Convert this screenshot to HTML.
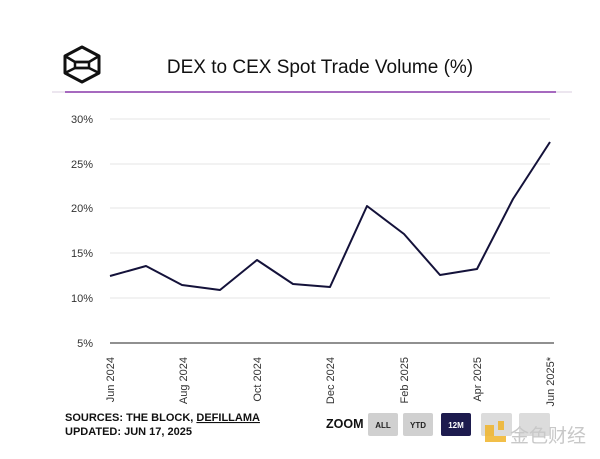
<!DOCTYPE html><html><head><style>body{margin:0;background:#fff;width:600px;height:454px;overflow:hidden}</style></head><body>
<svg width="600" height="454" xmlns="http://www.w3.org/2000/svg" font-family="Liberation Sans, sans-serif">
<g fill="none" stroke="#111" stroke-width="3" stroke-linejoin="round">
<polygon points="82,47 99,56 99,73 82,82 65,73 65,56"/>
<polyline points="65,56 75,62 89,62 99,56" stroke-width="2.5"/>
<polyline points="65,73 75,68 89,68 99,73" stroke-width="2.5"/>
<rect x="75" y="62" width="14" height="6" stroke-width="2.5"/>
</g>
<text x="320" y="73" font-size="19" text-anchor="middle" fill="#111">DEX to CEX Spot Trade Volume (%)</text>
<line x1="52" y1="92" x2="572" y2="92" stroke="#ece6ef" stroke-width="2"/>
<line x1="65" y1="92" x2="556" y2="92" stroke="#7b1fa2" stroke-width="1.2"/>
<g stroke="#e6e6e6" stroke-width="1">
<line x1="110" y1="119" x2="550" y2="119"/><line x1="110" y1="164" x2="550" y2="164"/><line x1="110" y1="208" x2="550" y2="208"/><line x1="110" y1="253" x2="550" y2="253"/><line x1="110" y1="298" x2="550" y2="298"/></g>
<line x1="110" y1="343" x2="554" y2="343" stroke="#222" stroke-width="1"/>
<g font-size="11" fill="#333" text-anchor="end">
<text x="93" y="123">30%</text><text x="93" y="168">25%</text><text x="93" y="212">20%</text><text x="93" y="257">15%</text><text x="93" y="302">10%</text><text x="93" y="347">5%</text></g>
<polyline fill="none" stroke="#14123a" stroke-width="2" stroke-linejoin="round" points="110,276 146,266 182,285 220,290 257,260 293,284 330,287 367,206 404,234 440,275 477,269 513,199 550,142"/>
<g font-size="11" fill="#333" text-anchor="end">
<text transform="translate(114,357) rotate(-90)">Jun 2024</text>
<text transform="translate(187,357) rotate(-90)">Aug 2024</text>
<text transform="translate(261,357) rotate(-90)">Oct 2024</text>
<text transform="translate(334,357) rotate(-90)">Dec 2024</text>
<text transform="translate(408,357) rotate(-90)">Feb 2025</text>
<text transform="translate(481,357) rotate(-90)">Apr 2025</text>
<text transform="translate(554,357) rotate(-90)">Jun 2025*</text></g>
<g font-size="11" font-weight="bold" fill="#111">
<text x="65" y="421">SOURCES: THE BLOCK, <tspan text-decoration="underline">DEFILLAMA</tspan></text>
<text x="65" y="435">UPDATED: JUN 17, 2025</text>
<text x="326" y="428" font-size="12.5">ZOOM</text></g>
<rect x="368" y="413" width="30" height="23" rx="2" fill="#d0d0d0"/>
<rect x="403" y="413" width="30" height="23" rx="2" fill="#d0d0d0"/>
<rect x="441" y="413" width="30" height="23" rx="2" fill="#1d1b4e"/>
<rect x="481" y="413" width="31" height="23" rx="2" fill="#dcdcdc"/>
<rect x="519" y="413" width="31" height="23" rx="2" fill="#dcdcdc"/>
<g font-size="8" font-weight="bold" text-anchor="middle"><text x="383" y="428" fill="#222">ALL</text><text x="418" y="428" fill="#222">YTD</text><text x="456" y="428" fill="#fff">12M</text></g>
<rect x="485" y="425" width="9" height="17" fill="#f0b429" opacity=".85"/><rect x="494" y="436" width="12" height="6" fill="#f0b429" opacity=".85"/><rect x="498" y="421" width="6" height="9" fill="#f0b429" opacity=".85"/>
<text x="510" y="442" font-size="19" fill="#c8c8c8" font-family="Noto Sans CJK SC, sans-serif">金色财经</text>
</svg></body></html>
